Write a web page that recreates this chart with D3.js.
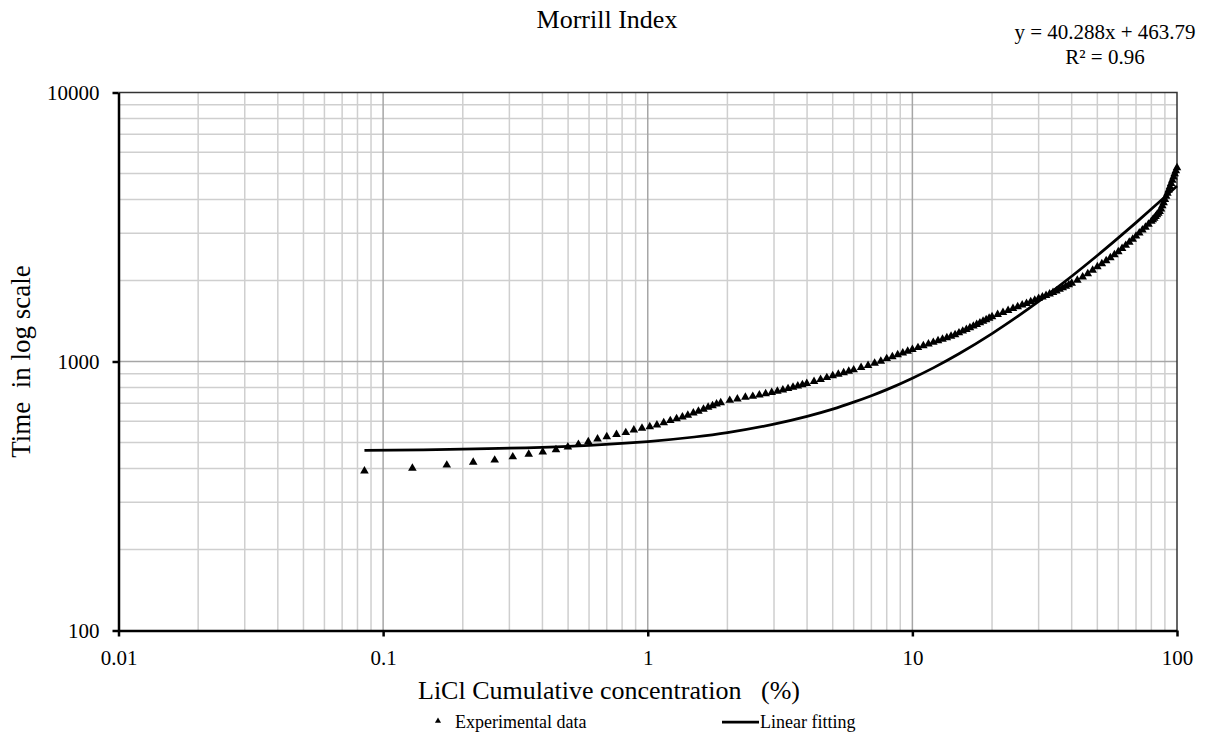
<!DOCTYPE html>
<html>
<head>
<meta charset="utf-8">
<script src="https://cdn.jsdelivr.net/npm/d3@7"></script>
<style>
  body { margin: 0; background: #fff; }
  svg text { font-family: "Liberation Serif", "Times New Roman", serif; fill: #000; }
</style>
</head>
<body>
<div id="vis-container"></div>
<script>
// chart box
const width = 1215;
const height = 748;
const margin = { top: 92.5, right: 38, bottom: 117.5, left: 118.5 };

// experimental data (LiCl cumulative %, time)
const expX = [0.085, 0.129, 0.174, 0.219, 0.264, 0.309, 0.355, 0.401, 0.450, 0.499,
    0.547, 0.596, 0.646, 0.700, 0.762, 0.826, 0.886, 0.951, 1.018, 1.083,
    1.149, 1.217, 1.285, 1.352, 1.417, 1.487, 1.554, 1.624, 1.691, 1.757,
    1.820, 1.887, 2.041, 2.181, 2.338, 2.494, 2.641, 2.79, 2.94, 3.09,
    3.24, 3.39, 3.54, 3.69, 3.84, 3.99, 4.25, 4.5, 4.75, 5.0,
    5.25, 5.5, 5.75, 6.0, 6.4, 6.8, 7.2, 7.6, 8.0, 8.4,
    8.8, 9.2, 9.6, 10, 10.5, 11, 11.5, 12, 12.5, 13,
    13.5, 14, 14.5, 15, 15.5, 16, 16.5, 17, 17.5, 18,
    18.5, 19, 19.5, 20, 21, 22, 23, 24, 25, 26,
    27, 28, 29, 30, 31, 32, 33, 34, 35, 36,
    37, 38, 39, 40, 42, 44, 46, 48, 50, 52,
    54, 56, 58, 60, 62, 64, 66, 68, 70, 72,
    74, 76, 78, 80, 81, 82, 83, 84, 85, 86,
    87, 88, 89, 90, 91, 92, 93, 94, 95, 96,
    97, 98, 99, 100];
const expY = [392, 401, 412, 422, 430, 442, 452, 461, 470, 481,
    492, 503, 515, 525, 535, 544, 556, 565, 572, 581,
    592, 603, 613, 622, 631, 644, 653, 664, 676, 685,
    695, 703, 717, 725, 736, 742, 751, 759, 767, 775,
    784, 793, 802, 811, 820, 829, 843, 857, 871, 885,
    897, 908, 920, 931, 950, 967, 985, 1003, 1025, 1042,
    1059, 1076, 1092, 1108, 1126, 1144, 1162, 1178, 1194, 1210,
    1225, 1242, 1258, 1278, 1297, 1316, 1335, 1354, 1373, 1392,
    1411, 1430, 1449, 1468, 1495, 1521, 1547, 1573, 1598, 1621,
    1644, 1667, 1690, 1714, 1737, 1760, 1783, 1806, 1830, 1854,
    1878, 1903, 1928, 1953, 2006, 2062, 2121, 2184, 2250, 2310,
    2370, 2432, 2495, 2558, 2630, 2702, 2776, 2850, 2925, 3002,
    3080, 3158, 3238, 3319, 3365, 3411, 3460, 3510, 3560, 3610,
    3690, 3790, 3890, 4000, 4110, 4225, 4340, 4460, 4590, 4720,
    4850, 4985, 5120, 5250];

// linear fitting trendline
const fitX = [0.085, 0.2, 0.5, 1, 1.5, 2, 3, 4, 5, 6, 7, 8, 10, 12, 15, 20, 25, 30, 40, 50, 60, 70, 80, 90, 100];
const fitY = [467, 472, 484, 504, 524, 544, 585, 625, 665, 706, 746, 786, 867, 947, 1068, 1270, 1471, 1672, 2075, 2478, 2881, 3284, 3687, 4090, 4493];

// axis ticks
const xTicks = [0.01, 0.1, 1, 10, 100];
const yTicks = [100, 1000, 10000];

const chartTitle = "Morrill Index";
const eqLines = ["y = 40.288x + 463.79", "R² = 0.96"];
const xTitle = "LiCl Cumulative concentration\u2002 (%)";
const yTitle = "Time  in log scale";

const svg = d3.select("#vis-container")
    .append("svg")
    .attr("width", width)
    .attr("height", height);

const x = d3.scaleLog()
    .domain([0.01, 100])
    .range([margin.left, width - margin.right]);

const y = d3.scaleLog()
    .domain([100, 10000])
    .range([height - margin.bottom, margin.top]);

// minor + major gridlines
let xMinor = [], yMinor = [];
xTicks.slice(0, -1).forEach(d => { for (let k = 2; k < 10; k++) xMinor.push(d * k); });
yTicks.slice(0, -1).forEach(d => { for (let k = 2; k < 10; k++) yMinor.push(d * k); });

const grid = svg.append("g");
grid.selectAll(".vx")
    .data(xMinor)
    .enter().append("line")
    .attr("x1", d => x(d)).attr("x2", d => x(d))
    .attr("y1", margin.top).attr("y2", height - margin.bottom)
    .attr("stroke", "#cfcfcf").attr("stroke-width", 1.5);
grid.selectAll(".hy")
    .data(yMinor)
    .enter().append("line")
    .attr("x1", margin.left).attr("x2", width - margin.right)
    .attr("y1", d => y(d)).attr("y2", d => y(d))
    .attr("stroke", "#cfcfcf").attr("stroke-width", 1.5);
grid.selectAll(".mx")
    .data(xTicks.slice(1, -1))
    .enter().append("line")
    .attr("x1", d => x(d)).attr("x2", d => x(d))
    .attr("y1", margin.top).attr("y2", height - margin.bottom)
    .attr("stroke", "#a6a6a6").attr("stroke-width", 1.5);
grid.selectAll(".my")
    .data(yTicks.slice(1, -1))
    .enter().append("line")
    .attr("x1", margin.left).attr("x2", width - margin.right)
    .attr("y1", d => y(d)).attr("y2", d => y(d))
    .attr("stroke", "#a6a6a6").attr("stroke-width", 1.5);

// top and right frame
svg.append("path")
    .attr("d", `M${margin.left},${margin.top}H${width - margin.right}V${height - margin.bottom}`)
    .attr("fill", "none")
    .attr("stroke", "#333")
    .attr("stroke-width", 1.5);

// x axis
svg.append("g")
    .attr("transform", `translate(0,${height - margin.bottom})`)
    .call(d3.axisBottom(x).tickValues(xTicks).tickFormat(d3.format("~g")).tickSize(6).tickSizeOuter(0))
    .call(g => g.select(".domain").attr("stroke", "#000").attr("stroke-width", 2.5))
    .call(g => g.selectAll(".tick line").attr("stroke", "#000").attr("stroke-width", 2.5))
    .call(g => g.selectAll(".tick text")
        .attr("font-size", "21px")
        .attr("font-family", "Liberation Serif")
        .attr("dy", "1.2em"));

// y axis
svg.append("g")
    .attr("transform", `translate(${margin.left},0)`)
    .call(d3.axisLeft(y).tickValues(yTicks).tickFormat(d3.format("d")).tickSize(6).tickSizeOuter(0))
    .call(g => g.select(".domain").attr("stroke", "#000").attr("stroke-width", 2.5))
    .call(g => g.selectAll(".tick line").attr("stroke", "#000").attr("stroke-width", 2.5))
    .call(g => g.selectAll(".tick text")
        .attr("font-size", "21px")
        .attr("font-family", "Liberation Serif")
        .attr("x", -19));

// linear fit line
const line = d3.line()
    .x((d, i) => x(fitX[i]))
    .y(d => y(d))
    .curve(d3.curveCatmullRom);

svg.append("path")
    .datum(fitY)
    .attr("d", line)
    .attr("fill", "none")
    .attr("stroke", "#000")
    .attr("stroke-width", 2.75);

// experimental triangles
svg.append("g")
    .selectAll("path")
    .data(expY)
    .enter()
    .append("path")
    .attr("transform", (d, i) => `translate(${x(expX[i])},${y(d)})`)
    .attr("d", d3.symbol(d3.symbolTriangle, 32))
    .attr("fill", "#000");

// titles
svg.append("text")
    .attr("x", 607).attr("y", 28)
    .attr("text-anchor", "middle")
    .attr("font-size", "26px")
    .text(chartTitle);

svg.append("g")
    .selectAll("text")
    .data(eqLines)
    .enter().append("text")
    .attr("x", 1105)
    .attr("y", (d, i) => 39 + i * 25)
    .attr("text-anchor", "middle")
    .attr("font-size", "21px")
    .text(d => d);

svg.append("text")
    .attr("x", 609).attr("y", 699)
    .attr("text-anchor", "middle")
    .attr("font-size", "26px")
    .style("white-space", "pre")
    .text(xTitle);

svg.append("text")
    .attr("transform", `translate(30,${(margin.top + height - margin.bottom) / 2}) rotate(-90)`)
    .attr("text-anchor", "middle")
    .attr("font-size", "27px")
    .style("white-space", "pre")
    .text(yTitle);

// legend
const legend = svg.append("g").attr("transform", "translate(0,722)");
legend.append("path")
    .attr("transform", "translate(438,-1)")
    .attr("d", d3.symbol(d3.symbolTriangle, 16))
    .attr("fill", "#000");
legend.append("text")
    .attr("x", 455).attr("y", 6)
    .attr("font-size", "18px")
    .text("Experimental data");
legend.append("line")
    .attr("x1", 722).attr("x2", 759)
    .attr("y1", 0).attr("y2", 0)
    .attr("stroke", "#000").attr("stroke-width", 2.75);
legend.append("text")
    .attr("x", 760).attr("y", 6)
    .attr("font-size", "18px")
    .text("Linear fitting");
</script>
</body>
</html>
